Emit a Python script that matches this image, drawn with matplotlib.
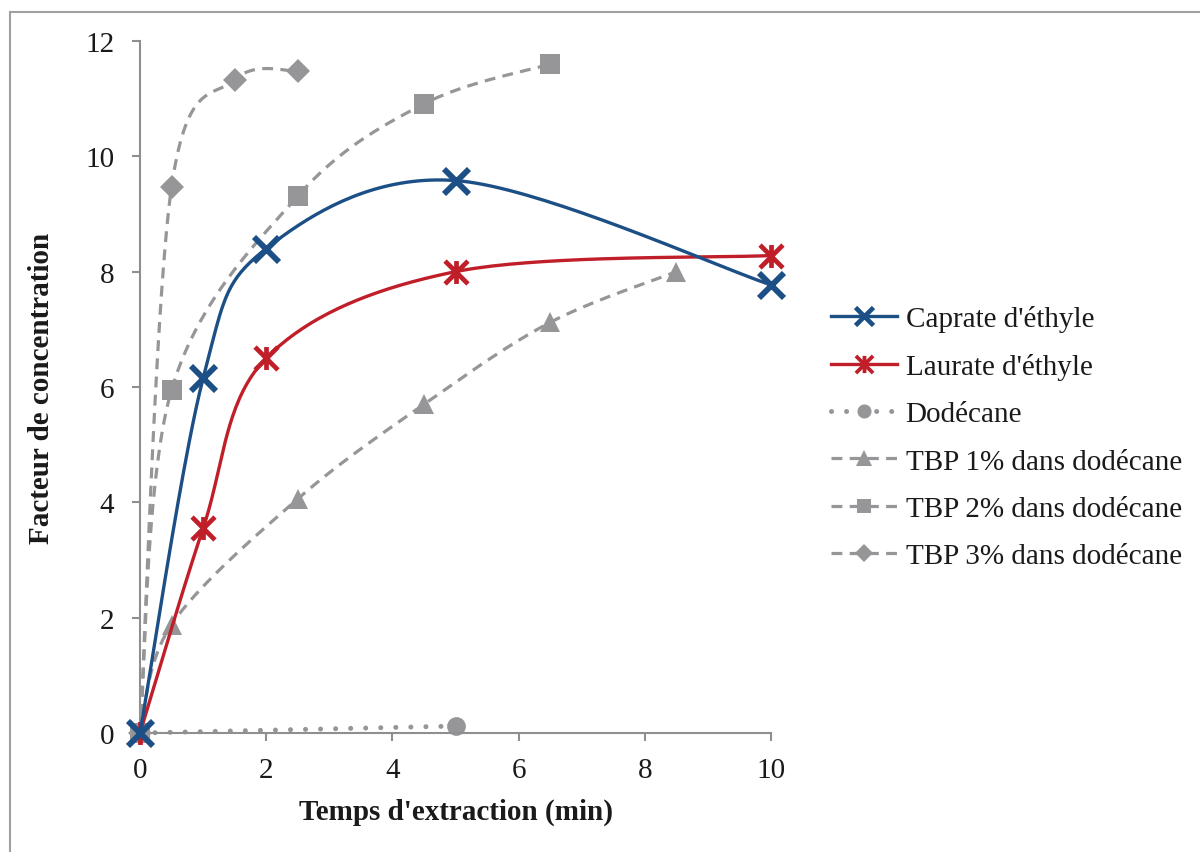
import numpy as np
import matplotlib
matplotlib.use("Agg")
import matplotlib.pyplot as plt
from matplotlib.patches import Rectangle
from matplotlib.lines import Line2D
from matplotlib.path import Path

plt.rcParams['font.family'] = ['Liberation Serif', 'DejaVu Serif']

# ---- data ----
caprate_x = [0, 1, 2, 5, 10]
caprate_y = [0, 6.15, 8.4, 9.58, 7.77]
laurate_x = [0, 1, 2, 5, 10]
laurate_y = [0, 3.55, 6.5, 8.0, 8.28]
dodecane_x = [0, 5]
dodecane_y = [0, 0.12]
tbp1_x = [0, 0.5, 2.5, 4.5, 6.5, 8.5]
tbp1_y = [0, 1.88, 4.06, 5.7, 7.12, 8.0]
tbp2_x = [0, 0.5, 2.5, 4.5, 6.5]
tbp2_y = [0, 5.95, 9.31, 10.91, 11.6]
tbp3_x = [0, 0.5, 1.5, 2.5]
tbp3_y = [0, 9.47, 11.33, 11.48]

labels = ["Caprate d'éthyle", "Laurate d'éthyle", "Dodécane",
          "TBP 1% dans dodécane", "TBP 2% dans dodécane", "TBP 3% dans dodécane"]
xticks = [0, 2, 4, 6, 8, 10]
yticks = [0, 2, 4, 6, 8, 10, 12]

BLUE = '#1c4f86'
RED = '#c01f2a'
GRAY = '#969699'
TXT = '#1a1a1a'

fig = plt.figure(figsize=(12, 8.53), dpi=100)
ax = fig.add_axes([140/1200, 1-734/853, (771-140)/1200, (734-42)/853])
ax.set_xlim(0, 10)
ax.set_ylim(0, 12)

# outer frame (left & top visible)
fig.patches.append(Rectangle((10/1200, -0.1), 1.2, (853-13)/853 + 0.1,
                             transform=fig.transFigure, fill=False,
                             edgecolor='#a0a0a3', lw=1.5))


def smooth(xs, ys, n=40):
    """Excel-like smoothed line: cubic Bezier in display space."""
    pts = ax.transData.transform(np.column_stack([xs, ys]))
    m = len(pts)
    if m < 3:
        return np.asarray(xs, float), np.asarray(ys, float)
    out = []
    t = np.linspace(0, 1, n)[:, None]
    for i in range(m - 1):
        p0 = pts[max(i - 1, 0)]
        p1 = pts[i]
        p2 = pts[i + 1]
        p3 = pts[min(i + 2, m - 1)]
        c1 = p1 + (p2 - p0) / 6.0
        c2 = p2 - (p3 - p1) / 6.0
        seg = ((1 - t) ** 3) * p1 + 3 * ((1 - t) ** 2) * t * c1 + 3 * (1 - t) * t ** 2 * c2 + t ** 3 * p2
        out.append(seg if i == 0 else seg[1:])
    out = np.vstack(out)
    d = ax.transData.inverted().transform(out)
    return d[:, 0], d[:, 1]

dash = (0, (3.4, 2.3))
star = Path([(0, -1), (0, 1), (-1, -1), (1, 1), (-1, 1), (1, -1)],
            [Path.MOVETO, Path.LINETO, Path.MOVETO, Path.LINETO, Path.MOVETO, Path.LINETO])

series = [
    (caprate_x, caprate_y, dict(color=BLUE, ls='-', lw=2.4), dict(marker='x', ms=18, mew=4.2, color=BLUE)),
    (laurate_x, laurate_y, dict(color=RED, ls='-', lw=2.4), dict(marker=star, ms=16.5, mew=3.4, color=RED)),
    (dodecane_x, dodecane_y, dict(color=GRAY, ls=(0, (0.01, 3.0)), lw=3.6, dash_capstyle='round'), dict(marker='o', ms=13.5, mew=0, color=GRAY)),
    (tbp1_x, tbp1_y, dict(color=GRAY, ls=dash, lw=2.3), dict(marker='^', ms=15, mew=0, color=GRAY)),
    (tbp2_x, tbp2_y, dict(color=GRAY, ls=dash, lw=2.3), dict(marker='s', ms=14, mew=0, color=GRAY)),
    (tbp3_x, tbp3_y, dict(color=GRAY, ls=dash, lw=2.3), dict(marker='D', ms=12, mew=0, color=GRAY)),
]

handles = []
order_z = [6, 5, 2, 3, 3, 3]
for (xs, ys, lkw, mkw), lab, z in zip(series, labels, order_z):
    sx, sy = smooth(xs, ys)
    ax.plot(sx, sy, clip_on=False, zorder=z, **lkw)
    ax.plot(xs, ys, ls='none', clip_on=False, zorder=z + 0.5,
            marker=mkw['marker'], ms=mkw['ms'], mew=mkw['mew'],
            color=mkw['color'], markeredgecolor=mkw['color'])
    handles.append(Line2D([], [], marker=mkw['marker'], ms=mkw['ms'] * 0.75,
                          mew=mkw['mew'] * 0.8, markeredgecolor=mkw['color'], **lkw))

for s in ['top', 'right']:
    ax.spines[s].set_visible(False)
for s in ['left', 'bottom']:
    ax.spines[s].set_color('#8f8f92')
    ax.spines[s].set_linewidth(1.5)

ax.set_xticks(xticks)
ax.set_yticks(yticks)
ax.set_xticklabels([str(v) for v in xticks])
ax.set_yticklabels([str(v) for v in yticks])
ax.tick_params(axis='both', direction='out', length=6, width=1.5, color='#8f8f92',
               labelsize=21, labelcolor=TXT)
ax.tick_params(axis='y', pad=12.5)
ax.tick_params(axis='x', pad=11)

ax.set_xlabel("Temps d'extraction (min)", fontsize=21, fontweight='bold', color=TXT, labelpad=11)
ax.set_ylabel("Facteur de concentration", fontsize=21, fontweight='bold', color=TXT, labelpad=22)

leg = fig.legend(handles=handles, labels=labels, loc='upper left',
                 bbox_to_anchor=(805/1200, 1-280/853), frameon=False,
                 fontsize=21, handlelength=2.25, handletextpad=0.3,
                 labelspacing=0.715, labelcolor=TXT)

fig.savefig('out.png', dpi=100)
